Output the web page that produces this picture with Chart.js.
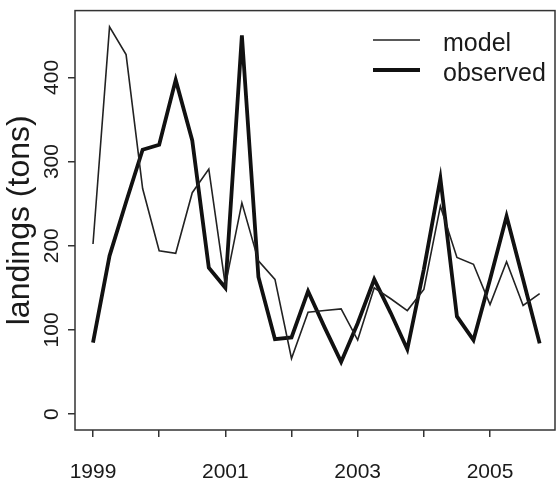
<!DOCTYPE html>
<html>
<head>
<meta charset="utf-8">
<script src="https://cdn.jsdelivr.net/npm/chart.js@4/dist/chart.umd.min.js"></script>
<style>
  html, body { margin: 0; padding: 0; background: #fff; }
  #wrap { width: 557px; height: 481px; }
</style>
</head>
<body>
<div id="wrap"><canvas id="landings"></canvas></div>
<script>
// quarterly time points, 1999 Q1 .. 2005 Q4
var quarters = [1999, 1999.25, 1999.5, 1999.75, 2000, 2000.25, 2000.5, 2000.75,
                2001, 2001.25, 2001.5, 2001.75, 2002, 2002.25, 2002.5, 2002.75,
                2003, 2003.25, 2003.5, 2003.75, 2004, 2004.25, 2004.5, 2004.75,
                2005, 2005.25, 2005.5, 2005.75];
var modelLandings = [202, 460, 427, 268, 194, 191, 263, 291,
                     153, 251, 182, 160, 66, 121, 123, 125,
                     88, 150, 137, 123, 148, 247, 186, 178,
                     130, 181, 129, 143];
var observedLandings = [85, 188, 252, 314, 320, 397, 325, 174,
                        150, 450, 163, 89, 91, 146, 103, 62,
                        108, 160, 120, 77, 172, 280, 116, 88,
                        160, 235, 160, 84];
var yearTicks = [1999, 2000, 2001, 2002, 2003, 2004, 2005];
var yearLabels = [1999, 2001, 2003, 2005];
var tonTicks = [0, 100, 200, 300, 400];

var FONT = "'Liberation Sans', Arial, Helvetica, sans-serif";
var INK = '#1a1a1a';

function pairs(xs, ys) {
  return xs.map(function(x, i) { return {x: x, y: ys[i]}; });
}

// frame round the plot region
var boxPlugin = {
  id: 'plotBox',
  afterDraw: function(chart) {
    var a = chart.chartArea, ctx = chart.ctx;
    ctx.save();
    ctx.strokeStyle = '#333';
    ctx.lineWidth = 1.5;
    ctx.strokeRect(a.left, a.top, a.right - a.left, a.bottom - a.top);
    ctx.restore();
  }
};

// line-sample legend in the top right corner
var legendPlugin = {
  id: 'lineLegend',
  afterDraw: function(chart) {
    var ctx = chart.ctx;
    ctx.save();
    ctx.font = '25px ' + FONT;
    ctx.textBaseline = 'alphabetic';
    ctx.textAlign = 'left';
    chart.data.datasets.forEach(function(ds, i) {
      var y = 40 + i * 30;
      ctx.strokeStyle = ds.borderColor;
      ctx.lineWidth = ds.borderWidth;
      ctx.beginPath();
      ctx.moveTo(373, y);
      ctx.lineTo(420, y);
      ctx.stroke();
      ctx.fillStyle = INK;
      ctx.fillText(ds.label, 443, y + 11);
    });
    ctx.restore();
  }
};

var ctx = document.getElementById('landings').getContext('2d');
new Chart(ctx, {
  type: 'line',
  data: {
    datasets: [
      {
        label: 'model',
        data: pairs(quarters, modelLandings),
        borderColor: '#222',
        borderWidth: 1.6,
        pointRadius: 0,
        tension: 0,
        fill: false
      },
      {
        label: 'observed',
        data: pairs(quarters, observedLandings),
        borderColor: '#111',
        borderWidth: 3.8,
        pointRadius: 0,
        tension: 0,
        fill: false
      }
    ]
  },
  options: {
    responsive: true,
    maintainAspectRatio: false,
    animation: false,
    layout: { padding: { top: 9, right: 2, left: 0, bottom: 0 } },
    plugins: {
      legend: { display: false },
      tooltip: { enabled: false }
    },
    scales: {
      x: {
        type: 'linear',
        min: 1998.728,
        max: 2005.982,
        afterBuildTicks: function(s) {
          s.ticks = yearTicks.map(function(v) { return {value: v}; });
        },
        afterFit: function(s) { s.height = 51; },
        grid: {
          display: true,
          drawOnChartArea: false,
          drawTicks: true,
          tickLength: 7,
          color: '#333',
          lineWidth: 1.5
        },
        border: { display: false },
        ticks: {
          autoSkip: false,
          maxRotation: 0,
          padding: 23,
          color: INK,
          font: { family: FONT, size: 21 },
          callback: function(v) {
            return yearLabels.indexOf(v) >= 0 ? String(v) : '';
          }
        }
      },
      y: {
        type: 'linear',
        min: -18.9,
        max: 479.3,
        afterBuildTicks: function(s) {
          s.ticks = tonTicks.map(function(v) { return {value: v}; });
        },
        afterFit: function(s) { s.width = 75; },
        grid: {
          display: true,
          drawOnChartArea: false,
          drawTicks: true,
          tickLength: 7,
          color: '#333',
          lineWidth: 1.5
        },
        border: { display: false },
        ticks: {
          autoSkip: false,
          minRotation: 90,
          maxRotation: 90,
          crossAlign: 'center',
          padding: -2,
          color: INK,
          font: { family: FONT, size: 21 },
          callback: function(v) { return String(v); }
        },
        title: {
          display: true,
          text: 'landings (tons)',
          color: INK,
          padding: { top: 1, bottom: 0 },
          font: { family: FONT, size: 32 }
        }
      }
    }
  },
  plugins: [boxPlugin, legendPlugin]
});
</script>
</body>
</html>
